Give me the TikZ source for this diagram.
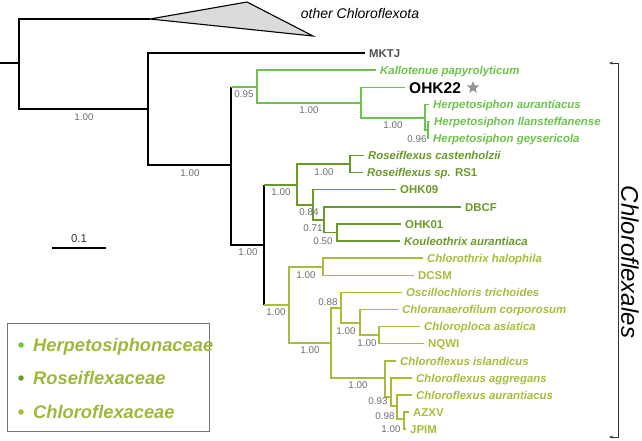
\documentclass[tikz,border=0pt]{standalone}
\usepackage{fontspec}
\setmainfont{Liberation Sans}
\usepackage{tikz}
\usetikzlibrary{arrows.meta,shapes.geometric}

\definecolor{herpgreen}{HTML}{6DC24B}
\definecolor{rosegreen}{HTML}{6A9A2A}
\definecolor{chlogreen}{HTML}{A4BE3C}
\definecolor{legtext}{HTML}{9CB93A}
\definecolor{suppgray}{HTML}{6E6E6E}
\definecolor{tipgray}{HTML}{505050}

\tikzset{
  branch/.style={line width=1.5pt},
  tip/.style={anchor=west, inner xsep=4pt, inner ysep=0pt, text height=8.2pt, text depth=0pt,
    font=\fontsize{11.4}{13}\selectfont\bfseries\itshape},
  tipid/.style={tip, font=\fontsize{11.4}{13}\selectfont\bfseries},
  supp/.style={inner sep=0pt, text=suppgray, font=\fontsize{9.8}{11}\selectfont},
  legdot/.style={circle, inner sep=0pt, minimum size=5.5pt},
  legname/.style={anchor=west, inner sep=0pt, text height=13.1pt, text depth=0pt, text=legtext,
    font=\fontsize{18.3}{20}\selectfont\bfseries\itshape},
}

\begin{document}
\begin{tikzpicture}[x=1pt, y=-1pt]
    \useasboundingbox (0,0) rectangle (642,440);

    % inner nodes
    \coordinate (base) at (0,63);
    \coordinate (root) at (19,63);
    \coordinate (cl) at (150,19);
    \coordinate (n1) at (148,109);
    \coordinate (n2) at (231,165);
    \coordinate (herp) at (257,87);
    \coordinate (n4) at (361,103);
    \coordinate (n5) at (425,118);
    \coordinate (n6) at (428,130);
    \coordinate (n3) at (264,245);
    \coordinate (rose) at (297,185);
    \coordinate (n7) at (350,164);
    \coordinate (n8) at (313,205);
    \coordinate (n9) at (324,220);
    \coordinate (n10) at (337,232.5);
    \coordinate (chlo) at (289,305);
    \coordinate (n11) at (323,267);
    \coordinate (n12) at (331,343);
    \coordinate (n13) at (341,308);
    \coordinate (n14) at (360,323);
    \coordinate (n15) at (379,335);
    \coordinate (n16) at (385,378);
    \coordinate (n17) at (391,397);
    \coordinate (n18) at (397,406);
    \coordinate (n19) at (404,419);

    % collapsed clade
    \draw[line width=1.1pt, fill=gray!28] (cl) -- (247,2) -- (313,36) -- cycle;
    \node[font=\fontsize{14}{16}\selectfont\itshape] (other) at (360,13) {other Chloroflexota};

    % tips
    \node[tipid, text=tipgray] (mktj) at (365,53) {MKTJ};
    \node[tip, text=herpgreen] (kall) at (376,70) {Kallotenue papyrolyticum};
    \node[tipid, text height=11.2pt, font=\fontsize{15.5}{17}\selectfont\bfseries] (ohk22) at (405,87.5) {OHK22};
    \node[star, star points=5, star point ratio=2.3, fill=gray!85, inner sep=0pt, minimum size=13pt] (star) at (473,87.5) {};
    \node[tip, text=herpgreen] (ha) at (429,104.5) {Herpetosiphon aurantiacus};
    \node[tip, text=herpgreen] (hl) at (430,121.5) {Herpetosiphon llansteffanense};
    \node[tip, text=herpgreen] (hg) at (429,138.5) {Herpetosiphon geysericola};

    \node[tip, text=rosegreen] (rc) at (364,155.5) {Roseiflexus castenholzii};
    \node[tipid, text=rosegreen] (rs) at (363,172.5) {\textit{Roseiflexus sp.} RS1};
    \node[tipid, text=rosegreen] (ohk09) at (396,189.5) {OHK09};
    \node[tipid, text=rosegreen] (dbcf) at (461,207) {DBCF};
    \node[tipid, text=rosegreen] (ohk01) at (401,224) {OHK01};
    \node[tip, text=rosegreen] (koul) at (400,241) {Kouleothrix aurantiaca};

    \node[tip, text=chlogreen] (cth) at (423,258) {Chlorothrix halophila};
    \node[tipid, text=chlogreen] (dcsm) at (414,275.5) {DCSM};
    \node[tip, text=chlogreen] (osc) at (402,292.5) {Oscillochloris trichoides};
    \node[tip, text=chlogreen] (chlan) at (398,309.5) {Chloranaerofilum corporosum};
    \node[tip, text=chlogreen] (chp) at (420,326.5) {Chloroploca asiatica};
    \node[tipid, text=chlogreen] (nqwi) at (424,343.5) {NQWI};
    \node[tip, text=chlogreen] (cisl) at (396,361) {Chloroflexus islandicus};
    \node[tip, text=chlogreen] (cagg) at (412,378) {Chloroflexus aggregans};
    \node[tip, text=chlogreen] (caur) at (412,395) {Chloroflexus aurantiacus};
    \node[tipid, text=chlogreen] (azxv) at (409,412) {AZXV};
    \node[tipid, text=chlogreen] (jpim) at (406,429) {JPIM};

    % backbone
    \draw[branch] (base) -- (root);
    \draw[branch] (cl) -| (root) |- (n1);
    \draw[branch] (mktj.west) -| (n1) |- (n2);
    \draw[branch] (n2 |- herp) -- (n2) |- (n3);
    \draw[branch] (n3 |- rose) -- (n3 |- chlo);

    % Herpetosiphonaceae
    \draw[branch, herpgreen] (n2 |- herp) -- (herp);
    \draw[branch, herpgreen] (kall.west) -| (herp) |- (n4);
    \draw[branch, herpgreen] (ohk22.west) -| (n4) |- (n5);
    \draw[branch, herpgreen] (ha.west) -| (n5) |- (n6);
    \draw[branch, herpgreen] (hl.west) -| (n6) |- (hg.west);

    % Roseiflexaceae
    \draw[branch, rosegreen] (n3 |- rose) -- (rose);
    \draw[branch, rosegreen] (n7) -| (rose) |- (n8);
    \draw[branch, rosegreen] (rc.west) -| (n7) |- (rs.west);
    \draw[branch, rosegreen] (ohk09.west) -| (n8) |- (n9);
    \draw[branch, rosegreen] (dbcf.west) -| (n9) |- (n10);
    \draw[branch, rosegreen] (ohk01.west) -| (n10) |- (koul.west);

    % Chloroflexaceae
    \draw[branch, chlogreen] (n3 |- chlo) -- (chlo);
    \draw[branch, chlogreen] (n11) -| (chlo) |- (n12);
    \draw[branch, chlogreen] (cth.west) -| (n11) |- (dcsm.west);
    \draw[branch, chlogreen] (n13) -| (n12) |- (n16);
    \draw[branch, chlogreen] (osc.west) -| (n13) |- (n14);
    \draw[branch, chlogreen] (chlan.west) -| (n14) |- (n15);
    \draw[branch, chlogreen] (chp.west) -| (n15) |- (nqwi.west);
    \draw[branch, chlogreen] (cisl.west) -| (n16) |- (n17);
    \draw[branch, chlogreen] (cagg.west) -| (n17) |- (n18);
    \draw[branch, chlogreen] (caur.west) -| (n18) |- (n19);
    \draw[branch, chlogreen] (azxv.west) -| (n19) |- (jpim.west);

    % support values
    \node[supp] (s-n1) at (84,117) {1.00};
    \node[supp] (s-n2) at (190,173) {1.00};
    \node[supp] (s-herp) at (244,94) {0.95};
    \node[supp] (s-n4) at (309,110) {1.00};
    \node[supp] (s-n5) at (393,125) {1.00};
    \node[supp] (s-n6) at (417,139) {0.96};
    \node[supp] (s-n3) at (248,252) {1.00};
    \node[supp] (s-rose) at (281,192) {1.00};
    \node[supp] (s-n7) at (324,172) {1.00};
    \node[supp] (s-n8) at (309,212) {0.84};
    \node[supp] (s-n9) at (313,228) {0.71};
    \node[supp] (s-n10) at (323,241) {0.50};
    \node[supp] (s-chlo) at (276,312) {1.00};
    \node[supp] (s-n11) at (306,275) {1.00};
    \node[supp] (s-n12) at (310,350) {1.00};
    \node[supp] (s-n13) at (328,302) {0.88};
    \node[supp] (s-n14) at (346,331) {1.00};
    \node[supp] (s-n15) at (367,343) {1.00};
    \node[supp] (s-n16) at (358,385) {1.00};
    \node[supp] (s-n17) at (378,401) {0.93};
    \node[supp] (s-n18) at (385,416) {0.98};
    \node[supp] (s-n19) at (391,429) {1.00};

    % scale bar
    \coordinate (sbl) at (52,248);
    \coordinate (sbr) at (106,248);
    \draw[branch] (sbl) -- (sbr);
    \node[text=black!80, font=\fontsize{11.4}{13}\selectfont] (sblabel) at (79,239) {0.1};

    % order bracket
    \coordinate (brtop) at (618,63);
    \coordinate (brbot) at (618,437);
    \draw[line width=0.8pt, black!80, {Stealth[length=4pt,width=3pt]}-{Stealth[length=4pt,width=3pt]}]
      ([xshift=-9pt]brtop) -- (brtop) -- (brbot) -- ([xshift=-9pt]brbot);
    \node[rotate=-90, font=\fontsize{24}{26}\selectfont\itshape] (order) at (630,262) {Chloroflexales};

    % legend
    \draw[line width=0.8pt, black!55] (7,323) rectangle (209,431);
    \node[legdot, fill=herpgreen] (dot-herp) at (21,345) {};
    \node[legdot, fill=rosegreen] (dot-rose) at (21,378) {};
    \node[legdot, fill=chlogreen] (dot-chlo) at (21,412) {};
    \node[legname] (leg-herp) at (33,345) {Herpetosiphonaceae};
    \node[legname] (leg-rose) at (33,378) {Roseiflexaceae};
    \node[legname] (leg-chlo) at (33,412) {Chloroflexaceae};
\end{tikzpicture}
\end{document}
